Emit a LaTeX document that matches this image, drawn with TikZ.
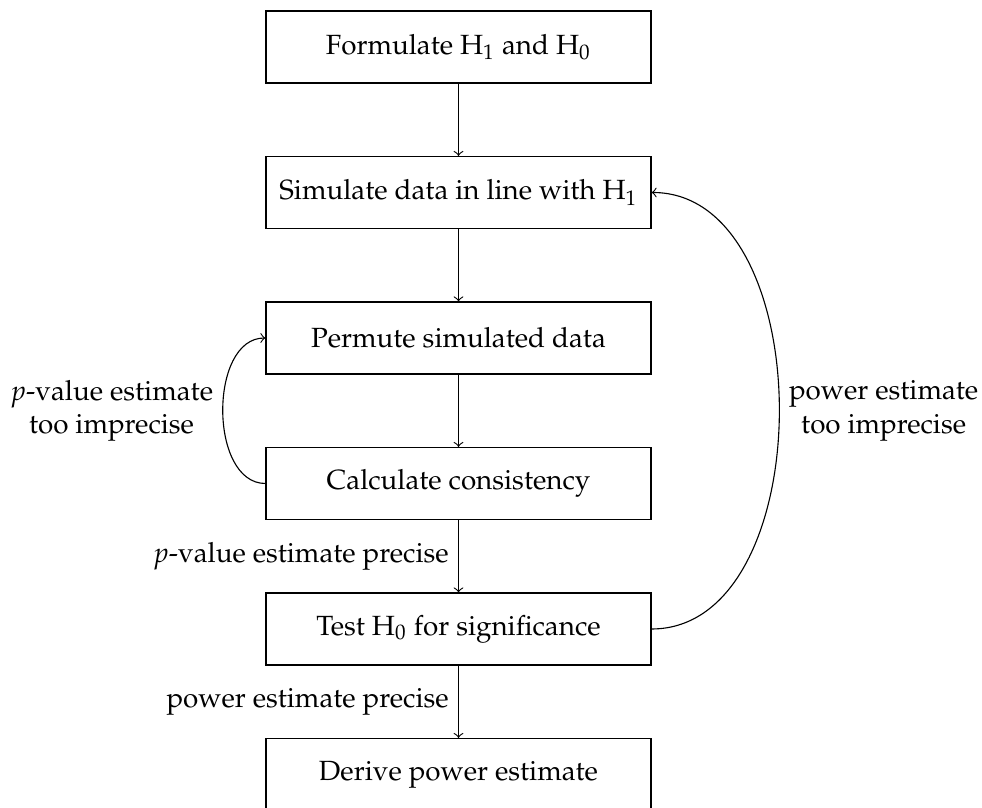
\documentclass[tikz,border=0pt]{standalone}
\usepackage[T1]{fontenc}
\usepackage{mathpazo}
\begin{document}
\begin{tikzpicture}[x=0.36pt,y=-0.36pt,
  stepbox/.style={draw, minimum width=138.6pt, minimum height=25.9pt, inner sep=0pt, font=\fontsize{10}{12}\selectfont},
  lbl/.style={font=\fontsize{10}{12}\selectfont, align=center},
  arr/.style={->, line width=0.4pt}]
\useasboundingbox (0,0) rectangle (982,808);
\node[stepbox] (f) at (458.5,47) {Formulate H$_1$ and H$_0$};
\node[stepbox] (s) at (458.5,192.5) {Simulate data in line with H$_1$};
\node[stepbox] (p) at (458.5,338) {Permute simulated data};
\node[stepbox] (c) at (458.5,483.5) {Calculate consistency};
\node[stepbox] (t) at (458.5,629) {Test H$_0$ for significance};
\node[stepbox] (d) at (458.5,774.5) {Derive power estimate};
\draw[arr] (f) -- (s);
\draw[arr] (s) -- (p);
\draw[arr] (p) -- (c);
\draw[arr] (c) -- node[lbl, left] {$p$-value estimate precise} (t);
\draw[arr] (t) -- node[lbl, left] {power estimate precise} (d);
\draw[arr] (c.west) to[out=180,in=180] node[lbl, left] {$p$-value estimate\\too imprecise} (p.west);
\draw[arr] (t.east) to[out=0,in=0] node[lbl, right] {power estimate\\too imprecise} (s.east);
\end{tikzpicture}
\end{document}
